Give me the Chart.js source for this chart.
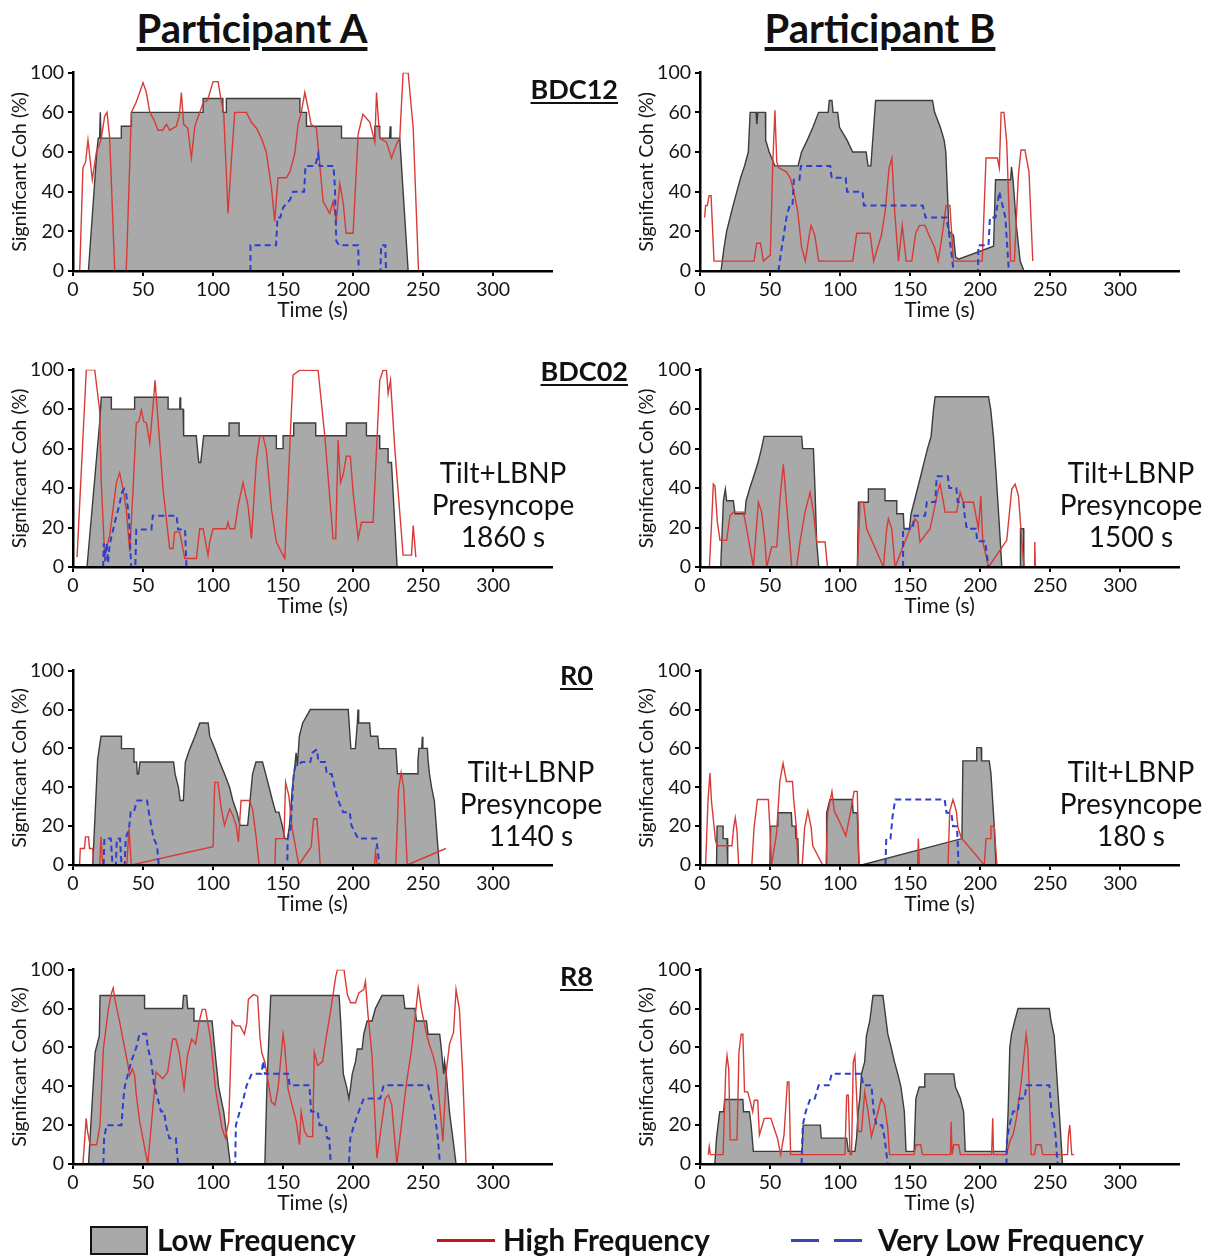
<!DOCTYPE html>
<html>
<head>
<meta charset="utf-8">
<script src="https://cdn.jsdelivr.net/npm/chart.js@4.4.1/dist/chart.umd.min.js"></script>
<style>
  body { margin: 0; width: 1222px; height: 1257px; position: relative; background: #fff; overflow: hidden;
         font-family: Lato, "Open Sans", "Liberation Sans", sans-serif; color: #111; }
  canvas { position: absolute; }
  .hdr { position: absolute; font-weight: bold; font-size: 40px; line-height: 48px; text-decoration: underline; text-underline-offset: 4px; white-space: nowrap; transform: translateX(-50%); }
  .tag { position: absolute; font-weight: bold; font-size: 27px; text-decoration: underline; text-underline-offset: 3px; line-height: 32px; white-space: nowrap; }
  .note { position: absolute; width: 220px; text-align: center; font-size: 28px; line-height: 32px; }
  .leg { position: absolute; font-weight: bold; font-size: 29.5px; line-height: 34px; white-space: nowrap; }
</style>
</head>
<body>
<div class="hdr" style="left:252px; top:4px;">Participant A</div>
<div class="hdr" style="left:880px; top:4px;">Participant B</div>

<canvas id="a1"></canvas><canvas id="b1"></canvas>
<canvas id="a2"></canvas><canvas id="b2"></canvas>
<canvas id="a3"></canvas><canvas id="b3"></canvas>
<canvas id="a4"></canvas><canvas id="b4"></canvas>

<div class="tag" style="right:604px; top:73px;">BDC12</div>
<div class="tag" style="right:594px; top:355px;">BDC02</div>
<div class="tag" style="right:629px; top:659px;">R0</div>
<div class="tag" style="right:629px; top:960px;">R8</div>

<div class="note" style="left:393px; top:456px;">Tilt+LBNP<br>Presyncope<br>1860 s</div>
<div class="note" style="left:1021px; top:456px;">Tilt+LBNP<br>Presyncope<br>1500 s</div>
<div class="note" style="left:421px; top:755px;">Tilt+LBNP<br>Presyncope<br>1140 s</div>
<div class="note" style="left:1021px; top:755px;">Tilt+LBNP<br>Presyncope<br>180 s</div>

<div style="position:absolute; left:90px; top:1226px; width:58px; height:29px; box-sizing:border-box; background:#a8a8a8; border:2.5px solid #111;"></div>
<div class="leg" style="left:157px; top:1223px;">Low Frequency</div>
<div style="position:absolute; left:437px; top:1239px; width:58px; height:3px; background:#c0161b;"></div>
<div class="leg" style="left:503px; top:1223px;">High Frequency</div>
<div style="position:absolute; left:791px; top:1239px; width:28px; height:3px; background:#3546b0;"></div>
<div style="position:absolute; left:834px; top:1239px; width:28px; height:3px; background:#3546b0;"></div>
<div class="leg" style="left:878px; top:1223px;">Very Low Frequency</div>

<script>
// axis labels as printed in the figure
const xTickLabels = [0, 50, 100, 150, 200, 250, 300]
const yTickLabels = ["0", "20", "40", "60", "60", "100"]

// [time (s), significant coherence (%)]
// Participant A, BDC12
const a1Lf = [[11,0],[17,60],[18,67],[19,67],[19.5,80],[20,67],[34.5,67],[34.5,73],[41.7,73],[41.7,80],[92.9,80],[92.9,87],[107,87],[107,80],[109.5,80],[109.5,87],[162,87],[162,80],[166.7,80],[166.7,73],[191.7,73],[191.7,67],[215.5,67],[215.5,73],[219,73],[219,67],[226,67],[226.5,73],[227,67],[233.3,67],[239.3,0]]
const a1Hf = [[4.8,0],[7.1,52],[9,55],[10.7,66],[12.4,55],[13.8,46],[16.7,60],[19,64],[20.2,67],[22.6,78],[24.3,80],[26.2,67],[29.8,0],[38,0],[41.7,80],[45,85],[47.6,90],[50,95],[52.4,90],[54.8,80],[58,76],[60.7,71],[64,71],[66.7,74],[69,71],[73.8,73],[76,79],[77.4,90],[79,74],[82,72],[84.5,57],[87,73],[90.5,80],[93,85],[96,86],[100,95.5],[103.6,95.5],[106,85],[107.6,80],[110.7,29],[113,55],[115.5,80],[123.8,80],[127.4,75],[131,72],[134.5,67],[138,60],[141.7,42],[144,25],[146.4,47],[152.4,47],[154.8,50],[158.3,59],[160.7,74],[163,80],[165.5,90],[167.9,82],[170,74],[173.8,72],[176,55],[178.6,35],[181,32],[183.3,29],[185.7,35],[188,25],[190.5,44],[193,34],[195,19],[200,19],[203.6,69],[207,79],[212,75],[215.5,65],[216.7,90],[219,67],[223.8,65],[227.4,57],[231,64],[233.3,67],[235.7,100],[239.3,100],[242.9,72],[246.7,0]]
const a1Vlf = [[126.7,0],[126.7,13],[145,13],[146,27],[148,27],[150,32],[155,36],[157,40],[165,40],[166,53],[173,53],[175,59],[176,53],[186,53],[187,42],[188,15],[190,13],[203.6,13],[204,0],[219.5,0],[220,13],[223,13],[223.5,0]]

// Participant B, BDC12
const b1Lf = [[15,0],[16.8,10],[19,20],[21.5,27],[23.6,33],[26.3,40],[29,47],[31.8,53],[34.5,60],[35.8,80],[40,80],[40.6,74],[41.3,80],[46.7,80],[46.9,66],[49.4,60],[53.5,53],[70,53],[72.5,60],[76.6,66],[80.6,72.5],[84.7,80],[91.5,80],[92.3,86],[94.2,86],[95,80],[98.3,80],[99.6,72.5],[105,66],[109,60],[118.6,60],[120,53],[122,53],[122.7,60],[125.4,86],[166,86],[167.5,80],[171.6,72.5],[174.3,66],[175.5,60],[177.8,20],[181,18],[182.5,7],[184.6,6],[209.6,12.5],[211,46],[221.8,46],[222.4,52.5],[223.5,46],[226,22],[228.6,5],[231.3,0]]
const b1Hf = [[3.3,27],[4,33],[5.2,33],[6.5,38],[7.9,38],[10,5],[38.6,5],[40.5,14],[43.2,14],[45.3,5],[50.2,8],[52,55],[53.5,81],[54.8,55],[56.2,52],[61.6,50],[64.4,47],[67,40],[69.8,30],[72.5,12],[75.2,5],[78,18],[79.3,23],[82,18],[84.7,5],[109,5],[111.9,19],[121.4,19],[124,5],[129.5,18],[132.2,30],[135,52],[137,57],[139,30],[141.7,5],[144.4,23],[147.2,5],[151.2,5],[154,19],[156.7,23],[160.7,23],[163.5,18],[167.5,12],[170,5],[172.9,18],[175.7,33],[178.4,33],[181,5],[201.5,5],[204.2,57],[212.3,57],[213.7,52],[215,80],[217,80],[219,65],[221.8,5],[224.5,5],[227.3,48],[229.2,61],[232,61],[234.9,50],[237.6,5]]
const b1Vlf = [[56,0],[58,10],[62,28],[64,33],[66,33],[67,46],[71,46],[72,53],[93,53],[94,47],[104,47],[105,40],[116,40],[117,33],[159,33],[161,27],[176,27],[178,18],[181,0],[198.5,0],[198.8,13],[206,13],[207,27],[211,27],[213.7,40],[216,33],[218,27],[220.5,0]]

// Participant A, BDC02
const a2Lf = [[10,0],[19,73],[20.2,86],[27.4,86],[27.4,80],[44,80],[44,86],[67.9,86],[67.9,80],[76.2,80],[76.4,86],[76.9,80],[78.6,80],[79,66.5],[88,66.5],[89.8,53],[91.2,53],[93.3,66.5],[111.4,66.5],[111.4,73],[118.6,73],[118.6,66.5],[145.2,66.5],[145.2,60],[150,60],[150,66.5],[157.6,66.5],[157.6,73],[173.3,73],[173.3,66.5],[195.2,66.5],[195.2,73],[209.5,73],[209.5,66.5],[219,66.5],[219,60],[225,60],[225,53],[227.4,53],[231.4,0]]
const a2Hf = [[2.9,5],[9.5,100],[15.5,100],[19,79.6],[20.2,42.8],[22.6,6],[26.2,16],[31,42.8],[33.3,47.8],[35.7,39.5],[38,29.4],[40.5,7.7],[42.9,39.5],[45.2,73],[47,73.7],[48.8,79.6],[50.5,73.7],[52.4,73],[54.8,62.9],[57.1,81.3],[58.6,94.6],[60,81.3],[61.9,62.9],[64.3,39.5],[69,9.4],[71.4,9.4],[72.6,17.7],[76.2,17.7],[79.8,4.3],[88.1,4.3],[90.5,19.4],[92.9,19.4],[96.4,6],[97.6,12.7],[100,19.4],[109.5,19.4],[110.7,22.7],[111.9,19.4],[115.5,19.4],[117.9,31],[121.4,42.8],[125,31],[127.4,14.4],[131,54.5],[133.3,66.2],[135.7,66.2],[138,59.5],[141.7,29.4],[145.2,12.7],[151.2,4.3],[157.1,97.2],[161.9,99.7],[175,99.7],[179.8,66.2],[185.7,14.4],[187.6,14.4],[189.3,64.5],[191,42.8],[192.9,47],[195.2,56.2],[198,56.2],[200,37.8],[203.6,14.4],[206,22.7],[214.3,22.7],[219,94.6],[221.4,99.7],[223.8,99.7],[225,88],[226.7,94.6],[229.8,59.5],[235.7,6],[241.7,6],[242.9,21],[244.8,5]]
const a2Vlf = [[21.5,0],[22,12],[23,3],[24,12],[25,2],[26,10],[27,14],[29,20],[31,26],[33,31],[35,38],[36.5,39.5],[38,37],[40,25],[41.5,0],[44.5,0],[45.2,19],[56,19],[57,26],[74,26],[75,19],[80,19],[81,0]]

// Participant B, BDC02
const b2Lf = [[14.8,0],[16.7,33.6],[18.1,39.5],[19,33.6],[23.8,33.6],[25,27],[32.1,27],[32.9,33.6],[35.7,40.3],[38.8,47],[41.7,53.7],[44,60.4],[45.7,66.2],[72.6,66.2],[73.3,60],[81,60],[82.1,39.5],[83.3,12.7],[84.8,0],[112.4,0],[113.1,32.8],[120.2,32.8],[120.2,39.5],[132.1,39.5],[132.1,33.6],[140.5,33.6],[140.5,27],[145.2,27],[145.7,19.4],[149.5,19.4],[150.7,27],[153.1,33.6],[155.5,40.3],[157.9,47],[160.2,53.7],[162.6,60.4],[165,66.2],[166.7,79.6],[167.9,86.3],[206,86.3],[207.6,79.6],[209.5,66.2],[211.4,47],[213.3,26],[215.5,0],[228.6,0],[228.8,19.4],[231,19.4],[231.2,0]]
const b2Hf = [[6.7,0],[8.3,22.7],[9.5,42],[10.7,41],[12.4,22.7],[14.3,13.5],[19,13.5],[21.4,26],[23.8,27.8],[31,27.8],[33.3,19.4],[38.1,0],[41.7,32.8],[44,27.8],[46.4,12.7],[47.6,0],[51.2,10.2],[54.8,10.2],[57.1,34.4],[59.5,52],[61.9,31.1],[65.5,0],[69,0],[71.4,12.7],[75,27.8],[78.6,37.8],[81,27.8],[83.3,12.7],[89.3,12.7],[91,0],[112.4,0],[114.3,32.8],[116.7,32.8],[119,19.4],[131,0],[133.3,19.4],[134.5,24.4],[136.9,19.4],[139.3,0],[150,19.4],[153.6,24.4],[155.5,22.7],[157.1,12.7],[164.3,19.4],[170.2,39.5],[171.4,42],[173.8,32.8],[175,27.8],[183.3,27.8],[185.7,37.8],[188.1,32.8],[195.2,32.8],[198.8,19.4],[200.5,36],[201.9,12.7],[206,0],[219,13.5],[222.6,39.5],[225,42],[227.4,36],[229.8,12.7],[231.4,0],[238.5,0],[239,12.7],[239.5,0]]
const b2Vlf = [[145,0],[145,19.4],[152,19.4],[153,26],[160.7,26],[162,33],[168,33],[169,46],[177,46],[178,40],[183,40],[184,33],[188,33],[189,26],[190.5,19.4],[197,19.4],[198,13],[203.6,13],[206,0]]

// Participant A, R0
const a3Lf = [[14.1,0],[17.6,54.4],[20,66.3],[34.6,66.3],[34.6,59.9],[43.5,59.9],[43.5,53],[45.4,53],[45.9,46.8],[46.8,46.8],[47.8,53],[71.8,53],[72.9,46.8],[75.3,40],[76.5,33.2],[78.8,33.2],[80.2,53],[83.5,59.9],[87.1,66.3],[90.6,73.1],[96.5,73.1],[97.6,66.3],[101.2,59.9],[104.7,53],[108.2,46.8],[111.8,40],[114.1,33.2],[117,27.2],[119.3,20.4],[124.7,20.4],[126.4,33.2],[128.2,46.8],[130.6,53],[135.3,53],[137.6,46.8],[140,40],[142.4,33.2],[144.7,27.2],[147,27.2],[149.4,20.4],[151.3,13.6],[153.2,13.6],[154.6,20.4],[156.5,39],[158.4,51],[159.3,57.8],[160.2,51],[161.6,66.3],[164,73.1],[169.4,80],[196.5,80],[198.4,59.9],[201.6,59.9],[203,73.1],[203.5,80],[204,73.1],[211.8,73.1],[212.5,66.3],[217.6,66.3],[218.4,59.9],[230.5,59.9],[231,54.6],[231.6,47],[245.8,47],[246.3,54],[247,60],[249,60],[249.4,66],[249.8,60],[253,60],[253.5,54],[254.5,47],[256,40],[258,33],[261.5,0]]
const a3Hf = [[4.7,0],[5.2,8.5],[8.2,8.5],[8.9,14.5],[11.1,14.5],[11.8,8.5],[14.1,8.5],[14.6,0],[19.1,0],[20,14.5],[21.2,0],[38.4,0],[40,18.7],[41.6,0],[100,9.4],[101.2,42.5],[103.5,42.5],[105.9,28.9],[108.2,20.4],[111.8,28.9],[114.1,25.5],[116.5,20.4],[118.1,11.9],[120,33.2],[125.9,33.2],[128.2,28.9],[130.6,15.3],[132.9,0],[144.2,0],[144.7,13.6],[150.6,13.6],[151.8,42.5],[154.1,35.7],[156.5,18.7],[161.2,0],[170.1,9.4],[171.1,18.7],[171.8,23.8],[174.1,23.8],[175.3,13.6],[176.5,0],[215.3,0],[216,6.8],[217.2,0],[230.5,0],[232.5,39],[234.3,47.6],[236.2,39],[238.6,0],[266.2,8.5]]
const a3Vlf = [[21.9,0],[22.4,13.6],[27,13.6],[28.2,0],[30.6,0],[31.3,13.6],[33.6,13.6],[34.6,0],[36.9,0],[37.6,13.6],[40,18.7],[41.2,27.2],[43.5,27.2],[44.7,30.6],[45.9,33.2],[52.9,33.2],[54.1,27.2],[57.6,13.6],[60,10.2],[61.2,0],[153,0],[153.2,13.6],[155.3,18.7],[157.6,46.8],[158.8,51],[163.5,53],[169.4,53],[171,57.8],[174.1,59.5],[175.3,53],[180,53],[181.2,46.8],[184.7,46.8],[187.1,39],[189.4,33.2],[192.9,27.2],[197.6,27.2],[198.8,20.4],[203.5,13.6],[216.5,13.6],[218.8,0]]

// Participant B, R0
const b3Lf = [[11.8,0],[12.2,20],[16.5,20],[16.5,13.6],[19.3,13.6],[19.8,0],[49.9,0],[50.4,20],[55.1,20],[55.6,26.9],[65.2,26.9],[65.7,20],[68.1,20],[68.5,13.6],[69.9,13.6],[70.4,0],[90,0],[90.4,26.9],[92.8,33.7],[108.8,33.7],[109.3,26.9],[112.3,26.9],[113.5,0],[115.4,0],[187,13.6],[187.7,53.6],[197.1,53.6],[197.6,60.4],[200.7,60.4],[201.1,53.6],[206.5,53.6],[207.7,47.3],[208.9,33.7],[210.1,20],[211.3,0]]
const b3Hf = [[4,0],[5.7,32.8],[7.1,47.3],[8.2,32.8],[11.1,12.4],[12.2,9.9],[22.8,9.9],[24,19.2],[25.2,24.3],[26.4,17.5],[27.6,0],[37,0],[38.6,19.2],[41,33.7],[48.8,33.7],[49.9,19.2],[51.1,0],[54.6,15.8],[57,43],[59.3,52.4],[61.7,43],[66,43],[66.9,33.7],[68.8,19.2],[70,0],[73,0],[74.7,19.2],[77,27.7],[79.4,19.2],[80.5,9.9],[87.6,0],[90,0],[91.1,26],[92.8,32.8],[94.2,37.9],[95.9,27.7],[99.4,22.6],[104.1,15],[107.6,27.7],[108.8,32.8],[110,37.9],[112.3,37.9],[113.5,0],[155.4,0],[155.9,13.6],[156.6,0],[177.1,0],[178.3,27.7],[180.6,33.7],[183,27.7],[184.2,19.2],[186.5,14.1],[203,0],[204.2,13.6],[207.3,13.6],[207.7,20],[210.1,20],[212,0]]
const b3Vlf = [[132.4,0],[133,13.6],[136,13.6],[137.5,25],[139.4,33.7],[174.7,33.7],[176,26.9],[179.5,26.9],[180.6,20],[183.5,20],[184.6,0]]

// Participant A, R8
const a4Lf = [[11.1,0],[15.8,57.5],[18.8,66],[19.3,86.7],[51.1,86.7],[51.1,80],[78.2,80],[78.9,86.7],[81.2,86.7],[81.9,80],[86.4,80],[86.4,73.6],[99.3,73.6],[101.2,59.2],[104,39.6],[107.6,26.9],[110,13.3],[112.3,0],[137,0],[138.4,38.8],[139.8,64.3],[141.2,86.7],[190,86.7],[191.1,73.6],[193,46.4],[195.4,39.6],[197,33.7],[198.2,39.6],[199.4,46.4],[201.7,52.7],[203,59.2],[206.4,59.2],[207.6,66.8],[210,73.6],[213.5,73.6],[215.9,80],[220.6,86.7],[235.9,86.7],[237,80],[244.1,80],[245.3,73.6],[252.4,73.6],[253.5,66.8],[261.8,66.8],[263,59.2],[264.7,46.4],[265.3,52.7],[266.5,46.4],[268.8,26.9],[271.2,13.3],[273.5,0]]
const a4Hf = [[7.1,0],[9.4,23.5],[10.4,16.7],[12.2,9.9],[16.9,9.9],[19.3,20],[21.7,59.2],[25.2,79.6],[27.5,88],[28.7,90.6],[29.9,84.7],[33.4,72.8],[37,59.2],[39.3,50.7],[40.5,45.6],[42.4,49],[44,45.6],[45.2,35.4],[47.6,21.8],[53.4,0],[59.3,47.3],[64,43.9],[67.6,47.3],[71.1,64.3],[73.4,64.3],[75.8,57.5],[79.3,38.8],[81.7,55.8],[84.7,64.3],[87.6,61.7],[89.9,72.8],[92.3,79.6],[94.6,79.6],[98.2,64.3],[101.7,38.8],[106.4,18.4],[108.8,13.3],[111.2,21.8],[113.5,73.6],[115.8,71.1],[119.3,71.1],[122.4,66.8],[124.1,72.8],[125.2,84.7],[128.8,87.2],[131.8,86.4],[133.5,65.1],[134.7,57.5],[137,52.4],[141.7,32],[144.1,30.3],[146.4,38.8],[150,66.8],[151.1,60.9],[153.5,38.8],[155.8,32],[159.4,21.8],[161.7,9.9],[162.9,26.9],[165.3,16.7],[167.6,14.1],[171.1,14.1],[172.3,57.5],[174.7,50.7],[178.2,52.7],[180.6,64.3],[184.1,79.6],[187.6,96.6],[188.8,100],[193.5,100],[195.9,87.2],[198.2,83],[201.7,83],[204.1,88],[207.6,89.8],[208.8,94],[210.5,77.9],[213.5,55.8],[217,3],[222.9,33.7],[225.3,35.4],[227.6,30.3],[231.2,0],[238.2,42.2],[241.8,59.2],[246.5,90.6],[248.8,79.6],[252.4,66.8],[254.7,60.9],[257.1,55.8],[259.4,49],[261.8,30.3],[264.1,11.6],[266.5,47.3],[268.8,61.7],[271.7,67.7],[273.5,89.8],[275.9,79.6],[278.2,47.3],[280.6,0]]
const a4Vlf = [[21.7,0],[22.2,13.3],[24,20],[34.6,20],[36,33.7],[37,40],[39.3,46.4],[41.7,53],[45.2,60],[47.5,67],[52.3,67],[53.4,60],[55.8,53],[58,40.5],[60.5,33.7],[62.8,27],[65,27],[66.4,20],[68.7,13.3],[73.4,13.3],[75,0],[115.8,0],[116.3,20],[119,27],[121.7,33.7],[124,40.5],[127.6,46.4],[134.6,46.4],[135.8,53],[137,46.4],[153.5,46.4],[154.7,40.5],[168.8,40.5],[170,27],[174.7,27],[176,20],[180.5,20],[181.5,13.3],[183,13.3],[184,0],[197,0],[198,13.3],[200.6,20],[204,27],[207.6,33.7],[219.4,33.7],[221.8,40.5],[253.5,40.5],[256,33.7],[258,27],[260.5,13.3],[262,0]]

// Participant B, R8
const b4Lf = [[10.6,0],[11.8,13.3],[12.9,20],[14.1,26.9],[16.9,26.9],[17.6,33.2],[30.6,33.2],[31.1,26.9],[35.3,26.9],[36.5,20],[38.1,6.5],[72.9,6.5],[73.6,20],[85.9,20],[86.6,13.3],[104.7,13.3],[105.9,6.5],[110.6,6.5],[111.8,13.3],[112.9,26.9],[114.1,33.7],[115.3,46.4],[117.6,52.7],[118.8,66],[121.2,73.6],[123.5,86.7],[130.6,86.7],[131.8,80],[134.1,66.8],[136.5,60],[138.8,52.7],[141.2,46.4],[143.5,39.6],[145.9,26.9],[147.1,6.5],[152.9,6.5],[154.1,33.7],[156.5,39.6],[160,39.6],[160.5,46.4],[181.2,46.4],[182.4,39.6],[185.9,33.7],[188.2,26.9],[189.4,6.5],[218.8,6.5],[220,26.9],[221.2,60],[222.4,66.8],[224.7,73.6],[227.1,80],[249.4,80],[250.6,73.6],[252.9,66],[254.1,52.7],[255.3,39.6],[256.5,26.9],[258.8,0]]
const b4Hf = [[5.9,4.8],[6.6,9],[7.5,4.8],[16.5,4.8],[18.4,49],[19.3,55.8],[20.5,49],[21.6,12.4],[26.4,12.4],[27.8,57.5],[29.4,66.8],[30.6,66.8],[31.8,37.1],[34.1,37.1],[36.5,30.3],[37.6,26.9],[38.8,32.8],[41.2,32.8],[42.4,15],[45.9,23.5],[50.6,23.5],[52.9,18.4],[55.3,13.3],[57.6,4.8],[60,15],[62.4,42.2],[63.5,42.2],[64.7,4.8],[103.5,4.8],[104.7,35.4],[105.9,35.4],[107.1,4.8],[108.2,4.8],[109.4,52.4],[110.6,55.8],[111.8,35.4],[112.9,16.7],[115.3,16.7],[117.6,37.1],[120,26.9],[122.4,14.1],[127.1,26.9],[129.4,33.7],[131.8,30.3],[134.1,18.4],[135.3,4.8],[152.9,4.8],[154.1,9.9],[157.6,9.9],[158.8,4.8],[178.8,4.8],[179.3,21.8],[180,4.8],[181.2,9.9],[184.7,9.9],[185.9,4.8],[208.2,4.8],[209,23.5],[209.6,4.8],[218.8,4.8],[221.2,11.6],[223.5,15],[225.9,23.5],[229.4,42.2],[231.8,59.2],[232.9,66.8],[234.1,59.2],[235.3,33.7],[236.5,4.8],[238.8,4.8],[240,9.9],[243.5,9.9],[244.7,4.8],[262.4,4.8],[263.1,15],[264,20],[265.4,4.8],[267.1,4.8]]
const b4Vlf = [[72.5,0],[73.4,20],[75.5,27],[78.8,33.7],[82,33.7],[84.7,40.5],[92,40.5],[94,46.4],[115.3,46.4],[116.5,40.5],[122.4,40.5],[124,27],[126,20],[130,20],[131.8,13.3],[134,0],[218.8,0],[219.2,13.3],[221,20],[223.5,27],[227,27],[228,33.7],[231.8,33.7],[233,40.5],[249.4,40.5],[251,27],[252.9,20],[254,13.3],[255.3,0]]

const lfFill = "#a9a9a9"
const lfLine = "#3c3c3c"
const hfColor = "#d83a36"
const vlfColor = "#2d3fcf"

const toXY = (pts) => pts.map(([x, y]) => ({ x, y }))

// canvas placement, chart area lands at left+73 .. right-padRight
const rowTop = [71, 368, 669, 968]
const rowHeight = [200, 199, 196, 196]
const colLeft = [0, 627]
const colWidth = [600, 595]
const colPadRight = [48, 43]

function makeChart(id, row, col, lf, hf, vlf) {
  const canvas = document.getElementById(id)
  canvas.width = colWidth[col]
  canvas.height = 14 + rowHeight[row] + 60
  canvas.style.left = colLeft[col] + "px"
  canvas.style.top = rowTop[row] - 14 + "px"

  return new Chart(canvas, {
    type: "line",
    data: {
      datasets: [
        { label: "Very Low Frequency", data: toXY(vlf), borderColor: vlfColor, borderWidth: 2, borderDash: [6, 4], fill: false, pointRadius: 0, order: 1 },
        { label: "High Frequency", data: toXY(hf), borderColor: hfColor, borderWidth: 1.4, fill: false, pointRadius: 0, order: 2 },
        { label: "Low Frequency", data: toXY(lf), borderColor: lfLine, backgroundColor: lfFill, borderWidth: 1.4, fill: "origin", pointRadius: 0, order: 3 },
      ],
    },
    options: {
      responsive: false,
      animation: false,
      events: [],
      layout: { padding: { top: 14, right: colPadRight[col], left: 0, bottom: 0 } },
      plugins: { legend: { display: false }, tooltip: { enabled: false } },
      scales: {
        x: {
          type: "linear",
          min: 0,
          max: 342,
          afterFit: (axis) => { axis.height = 60 },
          ticks: {
            stepSize: 50,
            includeBounds: false,
            autoSkip: false,
            maxRotation: 0,
            padding: 2,
            color: "#151515",
            font: { family: "Lato", size: 19.5 },
            callback: (value) => (xTickLabels.includes(value) ? String(value) : ""),
          },
          grid: { display: true, drawOnChartArea: false, drawTicks: true, tickLength: 5, color: "#000", lineWidth: 2, z: 1 },
          border: { display: true, color: "#000", width: 2.5, z: 1 },
          title: { display: true, text: "Time (s)", color: "#151515", font: { family: "Lato", size: 21 }, padding: { top: 0, bottom: 8 } },
        },
        y: {
          min: 0,
          max: 100,
          afterFit: (axis) => { axis.width = 73 },
          ticks: {
            stepSize: 20,
            padding: 4,
            color: "#151515",
            font: { family: "Lato", size: 19.5 },
            callback: (value, index) => yTickLabels[index],
          },
          grid: { display: true, drawOnChartArea: false, drawTicks: true, tickLength: 5, color: "#000", lineWidth: 2, z: 1 },
          border: { display: true, color: "#000", width: 2.5, z: 1 },
          title: { display: true, text: "Significant Coh (%)", color: "#151515", font: { family: "Lato", size: 19.5 }, padding: { top: 8, bottom: 0 } },
        },
      },
    },
  })
}

makeChart("a1", 0, 0, a1Lf, a1Hf, a1Vlf)
makeChart("b1", 0, 1, b1Lf, b1Hf, b1Vlf)
makeChart("a2", 1, 0, a2Lf, a2Hf, a2Vlf)
makeChart("b2", 1, 1, b2Lf, b2Hf, b2Vlf)
makeChart("a3", 2, 0, a3Lf, a3Hf, a3Vlf)
makeChart("b3", 2, 1, b3Lf, b3Hf, b3Vlf)
makeChart("a4", 3, 0, a4Lf, a4Hf, a4Vlf)
makeChart("b4", 3, 1, b4Lf, b4Hf, b4Vlf)
</script>
</body>
</html>
